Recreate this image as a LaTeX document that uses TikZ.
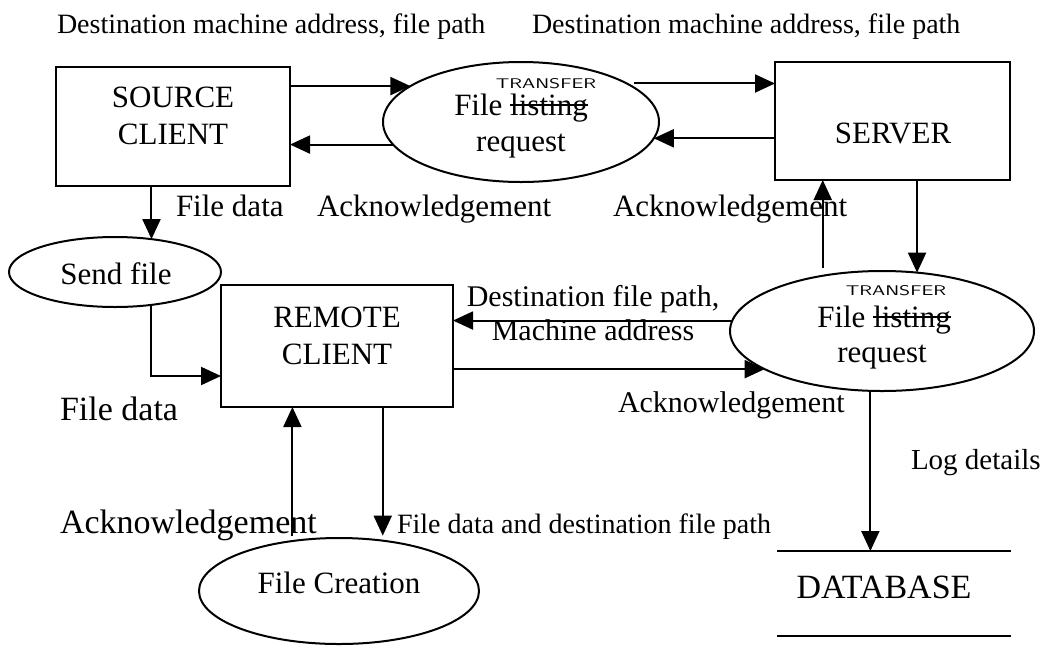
\documentclass[tikz,border=0pt]{standalone}
\usepackage{fontspec}
\setmainfont{Liberation Serif}
\usetikzlibrary{arrows.meta,shapes.geometric}
\newcommand\fsz[1]{\fontsize{#1}{#1}\selectfont}
\newcommand\strk[1]{\setbox0\hbox{#1}\rlap{\copy0}\raisebox{0.3em}{\rule{\wd0}{1.6pt}}}
\newcommand\handfont{\sffamily\fontsize{14}{14}\selectfont}
\begin{document}
\begin{tikzpicture}[x=1pt,y=-1pt,
  box/.style={draw, line width=2pt, rectangle, inner sep=0pt, outer sep=0pt},
  proc/.style={draw, line width=2pt, ellipse, inner sep=0pt, outer sep=0pt},
  arr/.style={line width=2pt, -{Triangle[length=20pt,width=18pt]}},
  lbl/.style={inner sep=0pt, outer sep=0pt},
  big/.style={lbl, font=\fontsize{31}{37}\selectfont, align=center},
  hand/.style={lbl, font=\handfont, anchor=base}]
\fill[white] (0,0) rectangle (1062,646);
\useasboundingbox (0,0) rectangle (1062,646);

% shapes
\node[box, minimum width=234pt, minimum height=119pt] (src) at (173,126.5) {};
\node[box, minimum width=235pt, minimum height=118pt] (srv) at (892.5,121) {};
\node[box, minimum width=232pt, minimum height=122pt] (rem) at (337,346) {};
\node[proc, minimum width=276pt, minimum height=120pt] (reqA) at (521,122) {};
\node[proc, minimum width=304pt, minimum height=120pt] (reqB) at (882,331) {};
\node[proc, minimum width=212pt, minimum height=70pt] (send) at (115,272) {};
\node[proc, minimum width=280pt, minimum height=106pt] (fc) at (339,591) {};
\node[lbl, minimum width=234pt, minimum height=85pt] (db) at (894,593.5) {};
\draw[line width=2pt] (db.north west) -- (db.north east);
\draw[line width=2pt] (db.south west) -- (db.south east);

% shape texts
\node[big] (srcT) at (173,116) {SOURCE\\CLIENT};
\node[big, anchor=base] (srvT) at (893,143) {SERVER};
\node[big] (remT) at (337,336) {REMOTE\\CLIENT};
\node[big, anchor=base] (sendT) at (116,284) {Send file};
\node[big, anchor=base] (fcT) at (339,593) {File Creation};
\node[lbl, font=\fsz{34}, anchor=base] (dbT) at (884,598) {DATABASE};

\node[hand] (trA) at (546,88) {\scalebox{1.45}[1]{TRANSFER}};
\node[lbl, font=\fsz{31}, anchor=base] (flA) at (521,115) {File \strk{listing}};
\node[lbl, font=\fsz{31}, anchor=base] (rqA) at (521,151) {request};
\node[hand] (trB) at (896,295) {\scalebox{1.45}[1]{TRANSFER}};
\node[lbl, font=\fsz{31}, anchor=base] (flB) at (884,327) {File \strk{listing}};
\node[lbl, font=\fsz{31}, anchor=base] (rqB) at (882,362) {request};

% flow labels
\node[lbl, font=\fsz{28}, anchor=base west] (l1) at (57,33) {Destination machine address, file path};
\node[lbl, font=\fsz{28}, anchor=base west] (l2) at (532,33) {Destination machine address, file path};
\node[lbl, font=\fsz{31}, anchor=base west] (fd1) at (176,216) {File data};
\node[lbl, font=\fsz{31}, anchor=base west] (ack1) at (317,216) {Acknowledgement};
\node[lbl, font=\fsz{31}, anchor=base west] (ack2) at (613,216) {Acknowledgement};
\node[lbl, font=\fontsize{30}{34}\selectfont, align=center] (dfp) at (593,313) {Destination file path,\\Machine address};
\node[lbl, font=\fsz{30}, anchor=base west] (ack3) at (618,412) {Acknowledgement};
\node[lbl, font=\fsz{34}, anchor=base west] (fd2) at (60,420) {File data};
\node[lbl, font=\fsz{34}, anchor=base west] (ack4) at (60,533) {Acknowledgement};
\node[lbl, font=\fsz{28}, anchor=base west] (fdp) at (397,533) {File data and destination file path};
\node[lbl, font=\fsz{29}, anchor=base west] (log) at (911,469) {Log details};

% connectors
\draw[arr] (src.east |- reqA.162) -- (reqA.162);
\draw[arr] (reqA.190) -- (src.east |- reqA.190);
\draw[arr] ([xshift=7pt]reqA.20) -- (srv.west |- reqA.20);
\draw[arr] (srv.west |- reqA.-7) -- (reqA.-7);
\draw[arr] (src.south -| send.42) -- (send.42);
\draw[arr] (send.-42) |- ([yshift=-30pt]rem.west);
\draw[arr] (reqB.176) -- (rem.east |- reqB.176);
\draw[arr] (rem.east |- reqB.198) -- (reqB.198);
\draw[arr] ([yshift=8pt]reqB.137) -- (srv.south -| reqB.137);
\draw[arr] (srv.south -| reqB.59) -- (reqB.59);
\draw[arr] (reqB.259) -- (db.north -| reqB.259);
\draw[arr] (rem.south -| fc.49) -- ([yshift=5pt]fc.49);
\draw[arr] ([yshift=5pt]fc.133) -- (rem.south -| fc.133);
\end{tikzpicture}
\end{document}
